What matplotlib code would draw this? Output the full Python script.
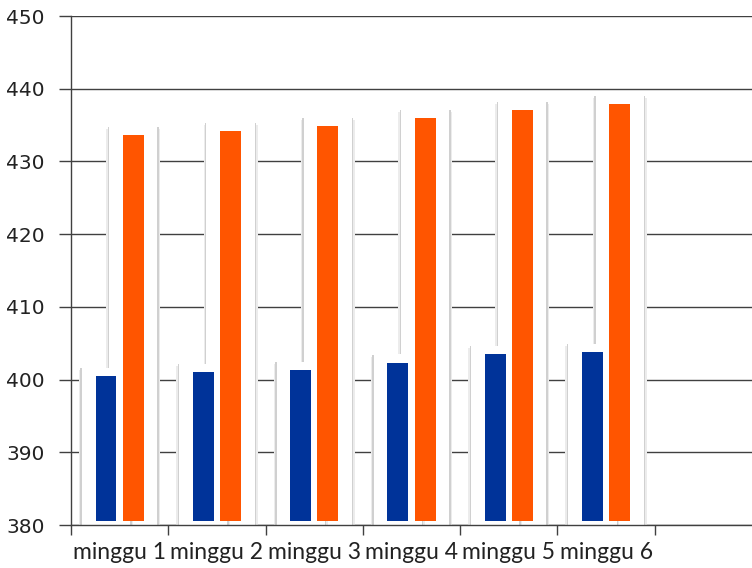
import matplotlib.pyplot as plt
import numpy as np

minggu = ["minggu 1", "minggu 2", "minggu 3", "minggu 4", "minggu 5", "minggu 6"]
seri_biru = [400.5, 401.0, 401.3, 402.3, 403.5, 403.8]
seri_oranye = [433.6, 434.2, 434.9, 436.0, 437.1, 437.9]

fig = plt.figure(figsize=(7.52, 5.68), dpi=100)
ax = fig.add_axes([0.0944, 0.0757, 0.9056, 0.8961])

x = np.arange(len(minggu)) + 0.5
lebar = 0.215
geser = 0.14
dasar = 380.55   # bars sit a little above the axis line
bingkai = 0.14   # white frame on each side of a bar (x units)
atas = 1.1       # frame sticks out above the bar top (y units)


def bingkai_bar(pos, nilai):
    tinggi = np.array(nilai) + atas - 380
    # soft grey rim (two shades), then the white frame over it
    ax.bar(pos, tinggi - 0.3, lebar + 2 * bingkai + 0.06, bottom=380,
           color="#ececec", linewidth=0, zorder=2)
    ax.bar(pos, tinggi, lebar + 2 * bingkai + 0.03, bottom=380,
           color="#d0d0d0", linewidth=0, zorder=2)
    ax.bar(pos, tinggi + 0.05, lebar + 2 * bingkai, bottom=380,
           color="white", linewidth=0, zorder=2)


bingkai_bar(x + geser, seri_oranye)
bingkai_bar(x - geser, seri_biru)
ax.bar(x - geser, np.array(seri_biru) - dasar, lebar, bottom=dasar,
       color="#003399", linewidth=0, zorder=3)
ax.bar(x + geser, np.array(seri_oranye) - dasar, lebar, bottom=dasar,
       color="#ff5500", linewidth=0, zorder=3)

ax.set_xlim(0, 7)
ax.set_ylim(380, 450)
ax.set_yticks(range(380, 451, 10))
ax.yaxis.grid(True, color="#404040", linewidth=1)
ax.set_axisbelow(True)

ax.set_xticks(range(0, 7), minor=True)
ax.set_xticks(x)
ax.set_xticklabels(minggu, fontsize=16.5, family="Lato", color="#222222")
ax.tick_params(axis="x", which="major", length=0, pad=12)
ax.tick_params(axis="x", which="minor", length=7, width=1, color="#404040")
ax.tick_params(axis="y", length=9, width=1, color="#404040", pad=10,
               labelsize=14.5, labelcolor="#222222")

for s in ["top", "right"]:
    ax.spines[s].set_visible(False)
for s in ["left", "bottom"]:
    ax.spines[s].set_color("#404040")
    ax.spines[s].set_linewidth(1)
ax.spines["left"].set_zorder(4)
ax.spines["bottom"].set_zorder(4)

fig.savefig("out.png", dpi=100)
